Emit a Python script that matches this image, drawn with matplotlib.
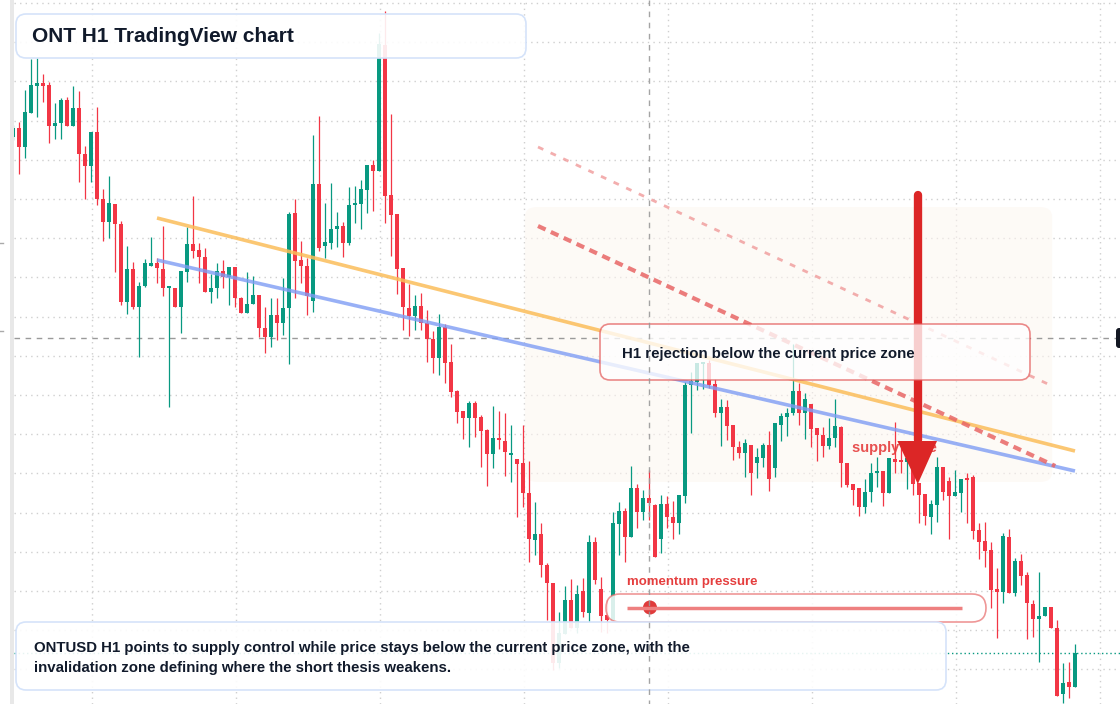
"""
ONT H1 candlestick chart with TradingView style annotations.
"""

import numpy as np
import matplotlib
matplotlib.use('Agg')
import matplotlib.pyplot as plt
from matplotlib.patches import FancyBboxPatch, Polygon, Circle

plt.rcParams['font.family'] = ['Liberation Sans', 'DejaVu Sans']

# OHLC in units of 1e-4 USD, one candle per hour
opens = [1863, 1872, 1853, 1887, 1914, 1917, 1915, 1874, 1877, 1900, 1874, 1892, 1846, 1834, 1868, 1801,
         1778, 1796, 1776, 1698, 1731, 1693, 1714, 1734, 1737, 1731, 1712, 1712, 1693, 1728, 1756, 1750,
         1743, 1708, 1712, 1729, 1723, 1733, 1702, 1687, 1696, 1705, 1672, 1663, 1685, 1677, 1692, 1787,
         1740, 1734, 1699, 1816, 1754, 1757, 1771, 1774, 1757, 1795, 1796, 1810, 1835, 1829, 1955, 1805,
         1786, 1732, 1692, 1684, 1694, 1677, 1661, 1642, 1673, 1638, 1609, 1589, 1582, 1597, 1583, 1570,
         1546, 1562, 1559, 1545, 1541, 1537, 1507, 1460, 1466, 1435, 1417, 1337, 1366, 1400, 1372, 1409,
         1387, 1458, 1411, 1385, 1380, 1476, 1489, 1463, 1512, 1488, 1502, 1495, 1461, 1496, 1483, 1477,
         1504, 1615, 1618, 1636, 1637, 1616, 1587, 1593, 1575, 1553, 1547, 1555, 1537, 1542, 1555, 1532,
         1575, 1583, 1587, 1609, 1587, 1596, 1572, 1565, 1554, 1562, 1573, 1537, 1516, 1512, 1493, 1508,
         1527, 1529, 1507, 1541, 1539, 1538, 1538, 1517, 1506, 1483, 1495, 1533, 1519, 1504, 1507, 1521,
         1523, 1470, 1459, 1450, 1411, 1408, 1463, 1407, 1439, 1425, 1396, 1381, 1384, 1393, 1372, 1306,
         1318, 1313]
highs = [1875, 1878, 1910, 1941, 1942, 1926, 1918, 1897, 1902, 1903, 1914, 1909, 1854, 1868, 1893, 1811,
         1824, 1796, 1779, 1754, 1738, 1718, 1741, 1763, 1742, 1774, 1713, 1712, 1729, 1773, 1804, 1757,
         1752, 1726, 1737, 1740, 1733, 1733, 1703, 1728, 1724, 1705, 1693, 1702, 1702, 1722, 1788, 1801,
         1759, 1742, 1865, 1884, 1797, 1817, 1788, 1778, 1813, 1814, 1820, 1835, 1840, 1967, 1989, 1886,
         1786, 1732, 1716, 1705, 1707, 1690, 1669, 1686, 1676, 1656, 1610, 1589, 1599, 1599, 1585, 1571,
         1594, 1589, 1587, 1575, 1541, 1575, 1539, 1498, 1477, 1437, 1417, 1388, 1414, 1421, 1415, 1422,
         1465, 1463, 1423, 1400, 1488, 1498, 1492, 1534, 1516, 1510, 1530, 1496, 1505, 1504, 1499, 1505,
         1618, 1628, 1637, 1638, 1640, 1621, 1601, 1600, 1575, 1559, 1561, 1555, 1552, 1557, 1569, 1577,
         1587, 1592, 1656, 1617, 1607, 1596, 1572, 1573, 1582, 1601, 1574, 1537, 1516, 1512, 1521, 1537,
         1543, 1529, 1542, 1578, 1553, 1543, 1538, 1517, 1506, 1500, 1543, 1533, 1523, 1530, 1521, 1527,
         1525, 1477, 1478, 1458, 1432, 1467, 1471, 1442, 1446, 1428, 1400, 1428, 1393, 1393, 1380, 1337,
         1338, 1356]
lows = [1860, 1826, 1842, 1887, 1883, 1898, 1857, 1861, 1861, 1874, 1874, 1818, 1801, 1818, 1795, 1759,
        1762, 1728, 1695, 1686, 1691, 1643, 1713, 1734, 1717, 1704, 1593, 1693, 1667, 1718, 1742, 1717,
        1708, 1697, 1702, 1712, 1695, 1693, 1687, 1687, 1696, 1663, 1647, 1653, 1660, 1665, 1636, 1702,
        1717, 1685, 1688, 1749, 1742, 1751, 1753, 1743, 1755, 1777, 1771, 1787, 1789, 1829, 1777, 1744,
        1706, 1670, 1664, 1670, 1670, 1638, 1627, 1625, 1617, 1603, 1577, 1561, 1553, 1563, 1533, 1514,
        1532, 1551, 1524, 1518, 1483, 1493, 1438, 1445, 1423, 1380, 1330, 1332, 1366, 1372, 1367, 1383,
        1378, 1416, 1368, 1367, 1380, 1445, 1438, 1463, 1472, 1480, 1480, 1443, 1447, 1472, 1461, 1466,
        1497, 1567, 1610, 1611, 1612, 1583, 1554, 1560, 1540, 1542, 1523, 1505, 1522, 1533, 1509, 1523,
        1559, 1564, 1585, 1575, 1561, 1553, 1539, 1543, 1551, 1553, 1513, 1513, 1495, 1484, 1487, 1498,
        1513, 1494, 1507, 1527, 1527, 1511, 1505, 1477, 1475, 1466, 1478, 1500, 1461, 1504, 1488, 1477,
        1461, 1441, 1433, 1392, 1362, 1397, 1407, 1404, 1415, 1361, 1363, 1338, 1384, 1372, 1304, 1297,
        1302, 1313]
closes = [1872, 1853, 1888, 1915, 1917, 1914, 1874, 1877, 1900, 1874, 1892, 1846, 1834, 1868, 1801, 1778,
          1797, 1776, 1698, 1731, 1693, 1714, 1737, 1737, 1732, 1712, 1713, 1693, 1729, 1756, 1749, 1743,
          1708, 1712, 1729, 1723, 1733, 1702, 1687, 1696, 1705, 1672, 1663, 1685, 1677, 1692, 1786, 1739,
          1734, 1704, 1816, 1752, 1758, 1771, 1774, 1757, 1795, 1796, 1811, 1835, 1829, 1956, 1804, 1785,
          1731, 1693, 1684, 1694, 1677, 1661, 1642, 1673, 1637, 1608, 1588, 1582, 1597, 1582, 1569, 1546,
          1562, 1560, 1548, 1546, 1536, 1507, 1461, 1466, 1435, 1417, 1337, 1367, 1400, 1372, 1406, 1388,
          1458, 1420, 1384, 1380, 1477, 1489, 1463, 1512, 1488, 1502, 1497, 1443, 1496, 1483, 1477, 1505,
          1615, 1619, 1637, 1637, 1615, 1587, 1593, 1574, 1553, 1547, 1557, 1527, 1543, 1555, 1521, 1577,
          1584, 1587, 1609, 1587, 1601, 1571, 1565, 1554, 1562, 1574, 1537, 1515, 1510, 1493, 1508, 1527,
          1528, 1507, 1542, 1538, 1538, 1542, 1516, 1505, 1484, 1496, 1533, 1508, 1504, 1508, 1521, 1520,
          1469, 1458, 1449, 1410, 1408, 1464, 1407, 1439, 1424, 1397, 1381, 1384, 1393, 1372, 1304, 1317,
          1313, 1347]

# drawn levels: (candle index, price)
orange_line = ([24, 177], [0.1782, 0.1549])
blue_line = ([24, 177], [0.1740, 0.1529])
red_dash_line = ([87.5, 173.7], [0.1774, 0.1534])
red_dash_light = ([87.5, 173.2], [0.1853, 0.1614])
supply_zone = (85.3, 173.2, 0.1518, 0.1793)
arrow_x, arrow_top, arrow_tip = 150.8, 0.1805, 0.1516
cross_price = 0.1662
last_price = closes[-1] / 1e4

GREEN = '#089981'
RED = '#f23645'
W, H = 1120, 704

o = np.array(opens) / 1e4
h = np.array(highs) / 1e4
l = np.array(lows) / 1e4
c = np.array(closes) / 1e4
x = np.arange(len(o))
col = np.where(c >= o, GREEN, RED)

fig = plt.figure(figsize=(W / 100, H / 100), dpi=100)

# main price axes
ax = fig.add_axes([14 / W, 0, 1 - 14 / W, 1])
ax.set_xlim(1 / 6, (W - 13) / 6)
ax.set_ylim(0.1296, 0.2000)
ax.set_facecolor('white')
for s in ax.spines.values():
    s.set_visible(False)
ax.set_xticks(np.arange(13.1, 185, 24))
ax.set_yticks(np.arange(0.1997, 0.1296, -0.00392))
ax.tick_params(length=0, labelbottom=False, labelleft=False)
ax.grid(True, color='#cfcfcf', linestyle=(0, (1, 3)), linewidth=1)
ax.set_axisbelow(True)

ax.add_patch(FancyBboxPatch((supply_zone[0], supply_zone[2]),
                            supply_zone[1] - supply_zone[0], supply_zone[3] - supply_zone[2],
                            boxstyle='round,pad=0,rounding_size=2', mutation_aspect=0.0005,
                            facecolor='#fdf6f0', edgecolor='none', alpha=0.55, zorder=1))

ax.axhline(cross_price, color='#9a9a9a', linewidth=1, linestyle=(0, (4, 4)), zorder=2)
ax.axhline(last_price, color=GREEN, linewidth=1, linestyle=(0, (1, 2)), zorder=2)

# candles
ax.vlines(x, l, h, colors=col, linewidth=0.9, zorder=3)
ax.bar(x, np.maximum(np.abs(c - o), 0.00015), bottom=np.minimum(o, c), width=0.8,
       color=col, linewidth=0, zorder=4)

# trend lines
ax.plot(*orange_line, color='#fbbd5a', linewidth=2.6, alpha=0.85, solid_capstyle='butt', zorder=5)
ax.plot(*blue_line, color='#7f9df4', linewidth=2.6, alpha=0.8, solid_capstyle='butt', zorder=5)
ax.plot(*red_dash_line, color='#e86666', linewidth=3, alpha=0.85,
        linestyle=(0, (2, 1.4)), zorder=5)
ax.plot(*red_dash_light, color='#f09a9a', linewidth=2, alpha=0.8,
        linestyle=(0, (2.1, 2.9)), zorder=5)

ax.text(139.8, 0.1552, 'supply zone', color='#e53e3e', fontsize=10.5, fontweight='bold',
        va='center', ha='left', alpha=0.9, zorder=6)

# down arrow
ax.plot([arrow_x, arrow_x], [arrow_top, 0.1560], color='#dc2626', linewidth=6,
        solid_capstyle='round', zorder=7)
ax.add_patch(Polygon([[arrow_x - 3.4, 0.1559], [arrow_x + 3.2, 0.1559], [arrow_x, arrow_tip]],
                     closed=True, facecolor='#dc2626', edgecolor='none', zorder=7))

# overlay in pixel coordinates for the annotation boxes
ov = fig.add_axes([0, 0, 1, 1])
ov.set_xlim(0, W)
ov.set_ylim(H, 0)
ov.axis('off')
ov.patch.set_alpha(0)


def box(x0, y0, x1, y1, edge, face_alpha, r=10, lw=1.2):
    ov.add_patch(FancyBboxPatch((x0, y0), x1 - x0, y1 - y0,
                                boxstyle=f'round,pad=0,rounding_size={r}',
                                facecolor=(1, 1, 1, face_alpha), edgecolor=edge, linewidth=lw))


ov.axvspan(10, 13.5, color='#e8e8e8', linewidth=0)
ov.plot([0, 3], [243, 243], color='#aaaaaa', linewidth=1)
ov.plot([0, 3], [331, 331], color='#aaaaaa', linewidth=1)

box(16, 14, 526, 58, '#d5e3fa', 0.9)
ov.text(32, 36, 'ONT H1 TradingView chart', fontsize=15, fontweight='bold',
        color='#111a2b', va='center', ha='left')

box(600, 324, 1030, 380, (0.89, 0.35, 0.35, 0.7), 0.78)
ov.text(622, 354, 'H1 rejection below the current price zone', fontsize=10.8, fontweight='bold',
        color='#111a2b', va='center', ha='left')

ov.text(627, 582, 'momentum pressure', fontsize=9.5, fontweight='bold',
        color='#e53e3e', va='center', ha='left')
box(606, 594, 986, 622, (0.91, 0.42, 0.42, 0.7), 0.85, r=14)
ov.plot([627, 962], [607.5, 607.5], color='#ee8080', linewidth=2.5, solid_capstyle='butt')
ov.add_patch(Circle((650, 607.5), 7, facecolor='#e03b3b', edgecolor='none'))

box(16, 622, 946, 690, '#d5e3fa', 0.9)
ov.text(34, 648, 'ONTUSD H1 points to supply control while price stays below the current price zone, with the',
        fontsize=10.8, fontweight='bold', color='#111a2b', va='center', ha='left')
ov.text(34, 668, 'invalidation zone defining where the short thesis weakens.',
        fontsize=10.8, fontweight='bold', color='#111a2b', va='center', ha='left')

# crosshair label and vertical crosshair
ov.add_patch(FancyBboxPatch((1116, 328), 30, 20, boxstyle='round,pad=0,rounding_size=3',
                            facecolor='#131722', edgecolor='none'))
ov.plot([649, 649], [0, H], color='#9a9a9a', linewidth=1, linestyle=(0, (4, 4)), alpha=0.9)

fig.savefig('out.png', dpi=100)
